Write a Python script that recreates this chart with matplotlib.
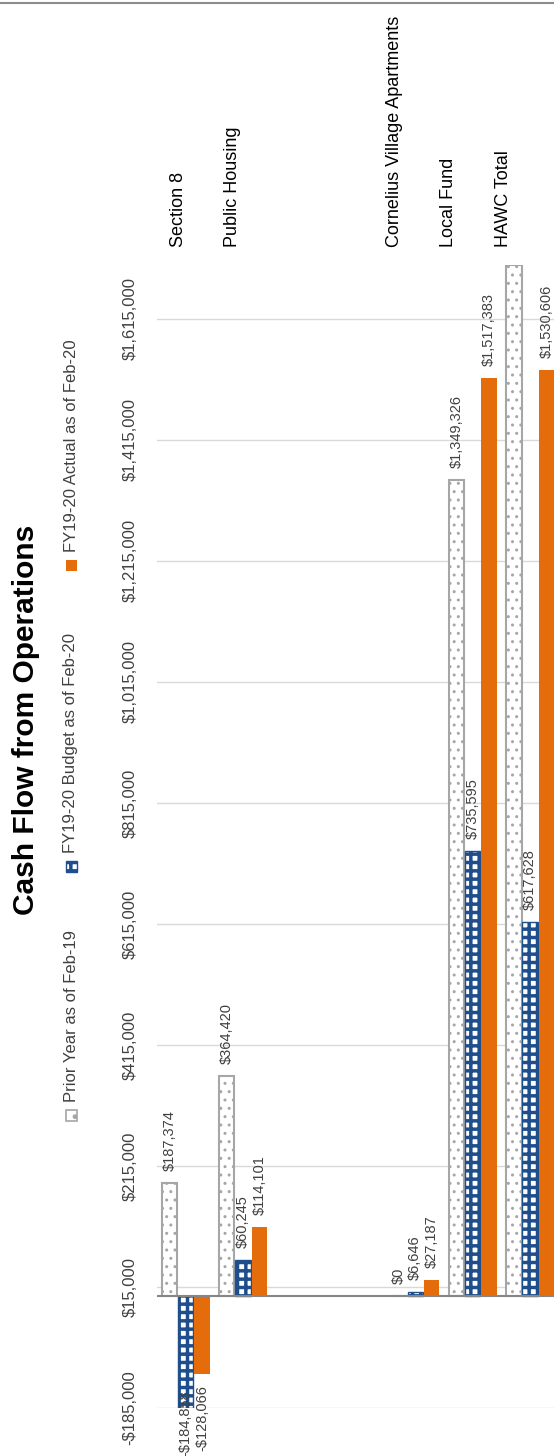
import numpy as np
import matplotlib
import matplotlib.pyplot as plt
from matplotlib.patches import Rectangle
from matplotlib.lines import Line2D
from matplotlib.ticker import FuncFormatter

plt.rcParams['font.family'] = ['Liberation Sans', 'DejaVu Sans']

# data
categories = ['Section 8', 'Public Housing', '', '', 'Cornelius Village Apartments', 'Local Fund', 'HAWC Total']
series = ['Prior Year as of Feb-19', 'FY19-20 Budget as of Feb-20', 'FY19-20 Actual as of Feb-20']
prior = [187374, 364420, np.nan, np.nan, 0, 1349326, 1901120]
budget = [-184858, 60245, np.nan, np.nan, 6646, 735595, 617628]
actual = [-128066, 114101, np.nan, np.nan, 27187, 1517383, 1530606]
value_ticks = list(range(-185000, 1615001, 200000))

W, H = 554, 1456
NAVY = '#1F4E8C'
ORANGE = '#E46C0A'
GRAY = '#A6A6A6'
TXT = '#404040'
ymin, ymax = -185000, 1704000

fig = plt.figure(figsize=(W / 100, H / 100), dpi=100)
ax = fig.add_axes([157 / W, (H - 1408) / H, (W - 157) / W, (1408 - 265) / H])

x = np.arange(len(categories))
off, bw = 0.285, 0.27
prior_a = np.array(prior, float)
budget_a = np.array(budget, float)
actual_a = np.array(actual, float)

ax.bar(x - off, np.minimum(prior_a, ymax), bw, color='white', edgecolor=GRAY,
       hatch='..', linewidth=1.5, zorder=2)
with plt.rc_context({'hatch.linewidth': 2.5}):
    ax.bar(x, budget_a, bw, color='white', edgecolor=NAVY, hatch='++', linewidth=1, zorder=2)
ax.bar(x + off, actual_a, bw, color=ORANGE, edgecolor='none', zorder=2)

ax.set_xlim(-0.5, 6.416)
ax.set_ylim(ymin, ymax)
ax.set_xticks([])
ax.set_yticks(value_ticks)
ax.yaxis.set_major_formatter(FuncFormatter(lambda v, p: ('-$' if v < 0 else '$') + f'{abs(v):,.0f}'))
ax.tick_params(axis='y', length=0, pad=14, labelsize=12, labelrotation=90, labelcolor=TXT)
for lbl in ax.get_yticklabels():
    lbl.set_va('center')
ax.grid(axis='y', color='#D9D9D9', linewidth=1)
ax.set_axisbelow(True)
ax.axhline(0, color='#868686', linewidth=1.5, zorder=3)
for s in ax.spines.values():
    s.set_visible(False)


def fmt(v):
    return ('-$' if v < 0 else '$') + f'{abs(v):,.0f}'


neg_labels = []
for xs, vals in [(x - off, prior_a), (x, budget_a), (x + off, actual_a)]:
    for xi, v in zip(xs, vals):
        if np.isnan(v):
            continue
        t = ax.annotate(fmt(v), xy=(xi, v), xytext=(0, 8.6 if v >= 0 else -8.6),
                        textcoords='offset points', rotation=90, ha='center',
                        va='bottom' if v >= 0 else 'top', fontsize=10.5, color=TXT)
        if v < 0:
            neg_labels.append(t)

# category labels above the plot
for i, name in enumerate(categories):
    if not name:
        continue
    ax.annotate(name, xy=(-0.134 + 0.944 * i, 1), xycoords=('data', 'axes fraction'),
                xytext=(0, 13), textcoords='offset points', rotation=90,
                ha='center', va='bottom', fontsize=13, color='black')

# legend drawn by hand (rotated)
leg_y = [1115, 866, 565]
for k, (name, sy) in enumerate(zip(series, leg_y)):
    rect = dict(transform=fig.transFigure)
    if k == 0:
        r = Rectangle(((71 - 5.5) / W, 1 - (sy + 5.5) / H), 11 / W, 11 / H, facecolor='white',
                      edgecolor=GRAY, hatch='.', linewidth=1.2, **rect)
    elif k == 1:
        with plt.rc_context({'hatch.linewidth': 2.5}):
            r = Rectangle(((71 - 5.5) / W, 1 - (sy + 5.5) / H), 11 / W, 11 / H, facecolor='white',
                          edgecolor=NAVY, hatch='++', linewidth=1, **rect)
    else:
        r = Rectangle(((71 - 5.5) / W, 1 - (sy + 5.5) / H), 11 / W, 11 / H, facecolor=ORANGE,
                      edgecolor='none', **rect)
    fig.add_artist(r)
    fig.text(71 / W, 1 - (sy - 13) / H, name, rotation=90, ha='center', va='bottom',
             fontsize=12, color=TXT)

fig.text(26 / W, 1 - 720 / H, 'Cash Flow from Operations', rotation=90, ha='center',
         va='center', fontsize=21.5, fontweight='bold', color='black')
fig.add_artist(Line2D([0, 1], [1 - 2.5 / H] * 2, transform=fig.transFigure, color='#8C8C8C', lw=1.5))

# keep negative labels inside the picture
fig.canvas.draw()
for t in neg_labels:
    bb = t.get_window_extent()
    if bb.y0 < 0:
        dx, dy = t.xyann
        t.xyann = (dx, dy - bb.y0 * 72 / 100)

fig.savefig('out.png', dpi=100)
